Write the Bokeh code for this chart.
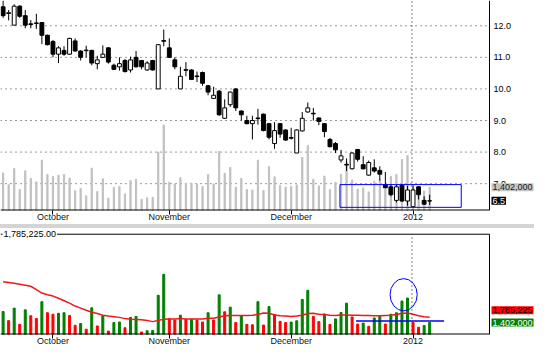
from bokeh.plotting import figure
from bokeh.models import (Range1d, FixedTicker, Label, Div, BoxAnnotation,
                          ColumnDataSource)
from bokeh.layouts import column
from bokeh.embed import file_html
from bokeh.resources import INLINE
from bokeh.core.properties import value

# ---------------- data ----------------
opens = [12.60, 12.41, 12.02, 12.62, 12.32, 12.06, 12.07, 12.10, 11.70, 11.50,
         11.10, 11.22, 11.10, 11.52, 11.20, 11.21, 11.22, 10.80, 11.00, 11.30,
         10.75, 10.70, 10.90, 10.60, 11.00, 10.90, 10.60, 10.90, 10.00, 11.53,
         11.30, 10.92, 10.00, 10.61, 10.60, 10.41, 10.52, 10.10, 9.70, 9.93,
         9.07, 9.50, 10.00, 9.30, 9.00, 8.90, 9.08, 9.20, 8.90, 8.27,
         8.90, 8.70, 8.46, 7.97, 8.67, 9.27, 9.23, 9.08, 8.90, 8.40,
         8.27, 7.75, 7.61, 7.47, 8.08, 7.60, 7.27, 7.50, 7.42, 6.97,
         6.90, 6.47, 6.95, 6.45, 6.27, 6.90, 6.47, 6.45]
highs = [12.80, 12.50, 12.68, 12.65, 12.50, 12.18, 12.38, 12.10, 11.72, 11.55,
         11.35, 11.35, 11.62, 11.60, 11.22, 11.37, 11.24, 11.05, 11.38, 11.32,
         10.80, 11.00, 10.95, 11.02, 11.20, 10.92, 10.88, 10.92, 11.42, 11.88,
         11.60, 11.00, 10.70, 10.85, 10.62, 10.55, 10.55, 10.12, 10.07, 9.97,
         9.67, 9.92, 10.02, 9.32, 9.15, 9.15, 9.37, 9.22, 8.92, 8.95,
         8.92, 8.72, 8.77, 8.72, 9.27, 9.57, 9.40, 9.10, 8.92, 8.45,
         8.32, 8.07, 7.80, 7.99, 8.10, 7.87, 7.73, 7.77, 7.55, 7.37,
         6.97, 6.97, 6.97, 6.93, 6.95, 6.92, 6.60, 6.65]
lows = [12.25, 12.17, 12.02, 12.25, 11.92, 11.92, 11.90, 11.42, 11.38, 11.00,
        10.82, 11.05, 11.08, 11.18, 10.90, 11.00, 10.75, 10.62, 10.98, 10.80,
        10.60, 10.58, 10.52, 10.52, 10.68, 10.62, 10.58, 10.58, 10.00, 11.35,
        10.98, 10.62, 10.00, 10.40, 10.28, 10.22, 10.10, 9.80, 9.68, 9.15,
        9.05, 9.43, 9.30, 9.00, 8.88, 8.40, 8.87, 8.66, 8.40, 8.10,
        8.45, 8.36, 8.40, 7.97, 8.65, 9.25, 9.00, 8.85, 8.47, 8.15,
        7.97, 7.67, 7.40, 7.45, 7.70, 7.45, 7.25, 7.35, 7.10, 6.85,
        6.60, 6.40, 6.43, 6.30, 6.25, 6.50, 6.33, 6.33]
closes = [12.32, 12.39, 12.62, 12.30, 12.02, 12.04, 12.09, 11.70, 11.40, 11.10,
          11.30, 11.10, 11.60, 11.20, 11.00, 11.23, 10.82, 10.92, 11.10, 10.85,
          10.62, 10.80, 10.55, 10.92, 10.70, 10.70, 10.82, 10.60, 11.40, 11.51,
          11.00, 10.70, 10.40, 10.59, 10.30, 10.39, 10.18, 9.90, 9.80, 9.18,
          9.40, 9.90, 9.40, 9.18, 8.90, 9.00, 9.06, 8.68, 8.47, 8.68,
          8.57, 8.38, 8.44, 8.70, 9.07, 9.40, 9.21, 8.97, 8.65, 8.17,
          8.07, 7.88, 7.59, 7.97, 7.77, 7.47, 7.67, 7.40, 7.30, 6.87,
          6.65, 6.90, 6.45, 6.80, 6.80, 6.65, 6.35, 6.46]
# volume in millions of shares
volume_m = [2.21, 1.54, 2.46, 1.27, 2.33, 1.90, 1.70, 2.93, 2.12, 2.01,
            2.08, 2.12, 1.92, 1.20, 1.33, 0.91, 2.48, 1.15, 1.88, 0.78,
            1.40, 1.44, 1.02, 1.78, 1.85, 0.71, 0.80, 0.82, 3.40, 4.93,
            1.68, 1.58, 1.94, 1.63, 1.63, 1.58, 1.44, 2.12, 1.58, 3.43,
            2.19, 2.53, 1.40, 1.90, 1.27, 1.24, 2.93, 1.22, 2.57, 1.99,
            1.49, 1.40, 1.44, 1.53, 3.09, 3.76, 1.85, 1.47, 2.03, 1.27,
            1.67, 2.14, 2.82, 1.81, 1.29, 1.36, 1.13, 1.74, 1.85, 1.29,
            2.01, 2.12, 2.98, 3.20, 1.40, 1.06, 1.18, 1.402]
# 1 = green (up) volume bar, 0 = red (down) volume bar
volume_up = [1, 0, 1, 0, 1, 0, 0, 1, 0, 0,
             1, 1, 0, 0, 1, 0, 1, 0, 1, 0,
             1, 1, 0, 1, 1, 0, 1, 1, 1, 1,
             0, 0, 1, 0, 1, 0, 0, 1, 0, 1,
             0, 1, 0, 1, 0, 0, 1, 0, 1, 0,
             0, 0, 1, 1, 1, 1, 0, 0, 1, 0,
             1, 1, 1, 0, 0, 1, 0, 1, 1, 0,
             1, 1, 1, 1, 0, 0, 1, 1]
# moving average of volume, millions
volume_ma_m = [4.39, 4.34, 4.28, 4.21, 4.14, 4.06, 3.81, 3.56, 3.44, 3.34,
               3.18, 3.00, 2.82, 2.61, 2.46, 2.30, 2.16, 2.06, 1.94, 1.88,
               1.83, 1.78, 1.69, 1.65, 1.63, 1.61, 1.56, 1.47, 1.56, 1.65,
               1.67, 1.67, 1.69, 1.67, 1.67, 1.67, 1.67, 1.72, 1.72, 1.81,
               1.90, 1.92, 1.92, 1.92, 1.92, 1.94, 1.99, 2.10, 2.08, 1.96,
               1.90, 1.88, 1.85, 1.88, 1.94, 2.06, 2.08, 2.01, 1.99, 1.94,
               1.92, 1.96, 1.96, 1.94, 1.94, 1.92, 1.92, 1.90, 1.90, 1.92,
               1.94, 1.99, 2.06, 2.10, 2.01, 1.90, 1.83, 1.785225]
month_labels = ["October", "November", "December", "2012"]
month_start = [9, 30, 52, 74]        # bar index of first session of month
price_ticks = [7, 8, 9, 10, 11, 12]

# ---------------- derived ----------------
n = len(closes)
idx = list(range(n))
body_top = [max(o, c) for o, c in zip(opens, closes)]
body_bot = [min(o, c) for o, c in zip(opens, closes)]
body_fill = ["white" if c > o else "black" for o, c in zip(opens, closes)]
vol_color = ["#008000" if u else "#ff0000" for u in volume_up]

src = ColumnDataSource(dict(x=idx, o=opens, h=highs, l=lows, c=closes,
                            bt=body_top, bb=body_bot, bf=body_fill,
                            v=volume_m, vc=vol_color, ma=volume_ma_m))

FONT = "Liberation Sans"
FS = "9px"
W = 534            # figure width = frame width
FW = 489           # width of the charting area (left of the value scale)
X_START = -0.47
DATA_END = 87.8    # x value at the right edge of the charting area
X_END = X_START + (DATA_END - X_START) * W / FW
year_x = month_start[-1] - 0.2

P_LO, P_HI = 6.15, 12.80
V_LO, V_TOP, V_HI = 0.526, 7.87, 8.29


def style_x(ax):
    ax.ticker = FixedTicker(ticks=month_start, minor_ticks=[])
    ax.major_label_overrides = {m: lab for m, lab in zip(month_start, month_labels)}
    ax.major_label_text_align = "left"
    ax.major_tick_out = 4
    ax.major_tick_in = 0
    ax.minor_tick_out = 0
    ax.major_label_standoff = -3
    ax.axis_line_color = None
    ax.major_tick_line_color = "black"
    ax.major_label_text_font = FONT
    ax.major_label_text_font_size = FS
    ax.major_label_text_color = "#101020"


def side_label(fig, y, text, bg, fg, y_range_name="default", y_offset=0):
    fig.add_layout(Label(x=DATA_END, x_offset=2, y=y, y_offset=y_offset,
                         y_range_name=y_range_name, text=text,
                         text_baseline="middle", text_font=FONT,
                         text_font_size=FS, text_color=fg,
                         background_fill_color=bg, padding=1))


x_range = Range1d(X_START, X_END)

# ---------------- price panel ----------------
top = figure(width=W, height=224, x_range=x_range, y_range=Range1d(P_LO, P_HI),
             output_backend="svg", toolbar_location=None, y_axis_location=None,
             min_border_left=0, min_border_right=0, min_border_top=0, min_border_bottom=12,
             outline_line_color=None, background_fill_color="white",
             border_fill_color="white")
top.extra_y_ranges = {"vol": Range1d(0.075, 12.0)}
top.grid.visible = False

# dotted price grid and year marker
top.segment(x0=[X_START] * len(price_ticks), y0=price_ticks,
            x1=[DATA_END] * len(price_ticks), y1=price_ticks,
            line_color="black", line_dash="1 4", line_alpha=0.8, line_width=1)
top.segment(x0=[year_x], y0=[P_LO], x1=[year_x], y1=[P_HI],
            line_color="black", line_dash="1 3", line_width=1)

# volume overlay and candles
top.vbar(x="x", top="v", bottom=0, width=0.22, y_range_name="vol",
         color="#c0c0c0", source=src)
top.segment(x0="x", y0="h", x1="x", y1="l", color="black", line_width=1, source=src)
top.vbar(x="x", top="bt", bottom="bb", width=0.7, fill_color="bf",
         line_color="black", line_width=1, source=src)

# value scale on the right
top.segment(x0=[DATA_END], y0=[P_LO], x1=[DATA_END], y1=[P_HI], color="black", line_width=1)
top.segment(x0=[X_START], y0=[P_LO], x1=[DATA_END], y1=[P_LO], color="black", line_width=2)
top.text(x=[DATA_END] * len(price_ticks), y=price_ticks,
         text=[f"{t:.1f}" for t in price_ticks], x_offset=4,
         text_align="left", text_baseline="middle",
         text_font=value(FONT), text_font_size=FS, text_color="black")

style_x(top.xaxis[0])

top.add_layout(BoxAnnotation(left=60.8, right=82.7, bottom=6.25, top=6.97,
                             fill_alpha=0, line_color="#0000ff", line_alpha=1,
                             line_width=1))

side_label(top, volume_m[-1], f"{int(round(volume_m[-1] * 1e6)):,}",
           "#c4c4c4", "#202020", y_range_name="vol")
side_label(top, closes[-1], f"{closes[-1]:.1f}", "black", "white")

# ---------------- separator ----------------
sep = Div(width=W, height=4, margin=(0, 0, 0, 0),
          styles={"background-color": "#d4d4d4"})

# ---------------- volume panel ----------------
bot = figure(width=W, height=120, x_range=x_range, y_range=Range1d(V_LO, V_HI),
             output_backend="svg", toolbar_location=None, y_axis_location=None,
             min_border_left=0, min_border_right=0, min_border_top=0, min_border_bottom=10,
             outline_line_color=None, background_fill_color="white",
             border_fill_color="white")
bot.grid.visible = False
bot.segment(x0=[year_x], y0=[V_LO], x1=[year_x], y1=[V_TOP],
            line_color="black", line_dash="1 3", line_width=1)
bot.vbar(x="x", top="v", bottom=0, width=0.36, color="vc", source=src)
bot.line(x="x", y="ma", color="#f01818", line_width=1.5, source=src)
bot.ellipse(x=[72.3], y=[3.44], width=[4.9], height=[2.36], fill_color=None,
            line_color="#0000ff", line_width=1)
bot.segment(x0=[63.7], y0=[1.52], x1=[79.6], y1=[1.52], color="#0000ff", line_width=1.5)
# panel frame
bot.segment(x0=[X_START, DATA_END, X_START], y0=[V_TOP, V_LO, V_LO],
            x1=[DATA_END, DATA_END, DATA_END], y1=[V_TOP, V_TOP, V_LO],
            color="black", line_width=[1, 1, 2])
style_x(bot.xaxis[0])

bot.add_layout(Label(x=X_START, x_offset=2, y=V_TOP,
                     text=f"{volume_ma_m[-1] * 1e6:,.2f}", text_baseline="middle",
                     text_font=FONT, text_font_size=FS, text_color="black",
                     background_fill_color="white", padding=1))
side_label(bot, volume_ma_m[-1], f"{int(round(volume_ma_m[-1] * 1e6)):,}",
           "#ff0000", "black", y_offset=7)
side_label(bot, volume_m[-1], f"{int(round(volume_m[-1] * 1e6)):,}",
           "#008000", "white")

layout = column(top, sep, bot, spacing=0)
open("out.html", "w").write(file_html(layout, INLINE))
